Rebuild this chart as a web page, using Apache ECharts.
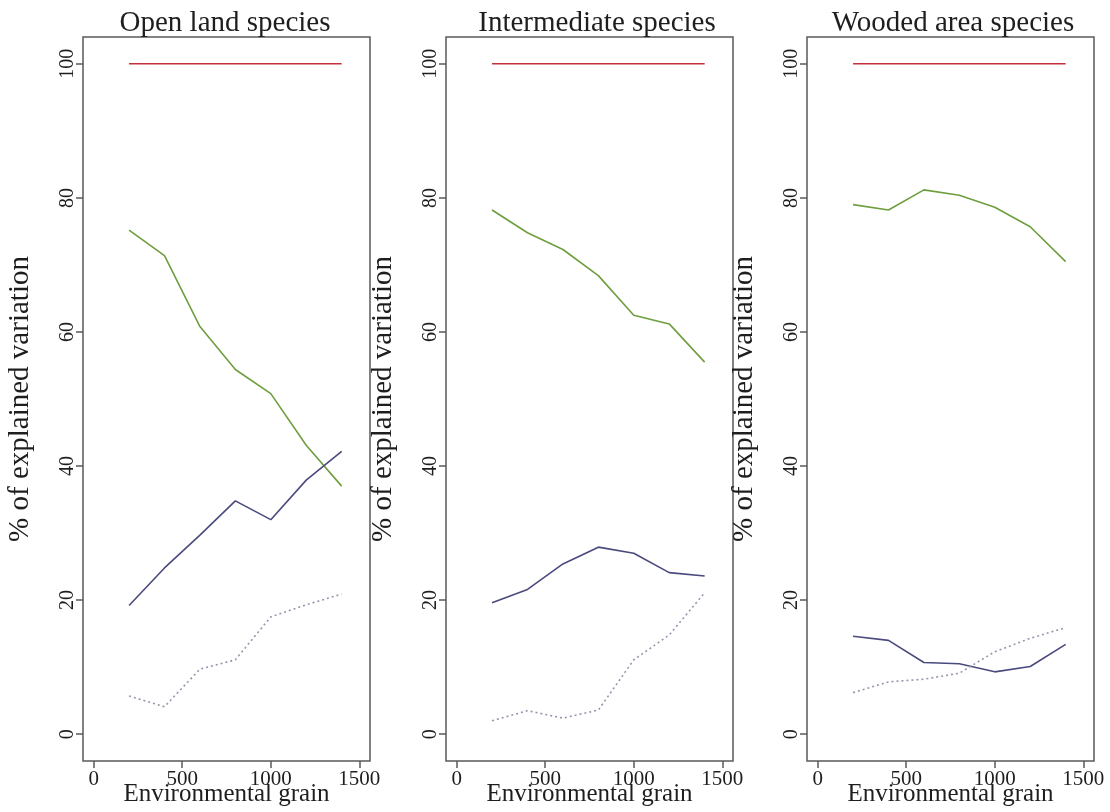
<!DOCTYPE html>
<html>
<head>
<meta charset="utf-8">
<script src="https://cdn.jsdelivr.net/npm/echarts@6/dist/echarts.min.js"></script>
<style>
html,body{margin:0;padding:0;background:#fff;}
#chart{width:1110px;height:812px;}
</style>
</head>
<body>
<div id="chart"></div>
<script>
// ---- data ----
const grain = [200, 400, 600, 800, 1000, 1200, 1400];
const panelTitles = ["Open land species", "Intermediate species", "Wooded area species"];
const xTicks = [0, 500, 1000, 1500];
const yTicks = [0, 20, 40, 60, 80, 100];

const openTotal = [100, 100, 100, 100, 100, 100, 100];
const openGreen = [75.2, 71.4, 60.8, 54.4, 50.8, 43.1, 37.0];
const openBlue  = [19.2, 24.8, 29.7, 34.8, 32.0, 37.9, 42.2];
const openDot   = [5.7, 4.1, 9.7, 11.1, 17.5, 19.3, 20.9];

const interTotal = [100, 100, 100, 100, 100, 100, 100];
const interGreen = [78.2, 74.8, 72.3, 68.4, 62.5, 61.2, 55.5];
const interBlue  = [19.6, 21.6, 25.4, 27.9, 27.0, 24.1, 23.6];
const interDot   = [2.0, 3.5, 2.4, 3.6, 11.1, 14.8, 21.1];

const woodTotal = [100, 100, 100, 100, 100, 100, 100];
const woodGreen = [79.0, 78.2, 81.2, 80.4, 78.6, 75.7, 70.5];
const woodBlue  = [14.6, 14.0, 10.7, 10.5, 9.3, 10.1, 13.4];
const woodDot   = [6.2, 7.8, 8.2, 9.1, 12.3, 14.3, 15.9];

const panels = [
  [openTotal, openGreen, openBlue, openDot],
  [interTotal, interGreen, interBlue, interDot],
  [woodTotal, woodGreen, woodBlue, woodDot]
];

// ---- layout / style ----
const gridLefts = [83, 446, 807];
const titleCenters = [220, 592, 948];
const gridWidth = 287;
const gridTop = 37;
const gridHeight = 724;
const serif = '"Liberation Serif", "DejaVu Serif", serif';
const boxColor = '#5a5a5a';
const txt = '#1e1e1e';
const styles = [
  {name: 'Total', color: '#c4303a', type: 'solid'},
  {name: 'Environment', color: '#6f9e3f', type: 'solid'},
  {name: 'Space', color: '#4a4a7e', type: 'solid'},
  {name: 'Shared', color: '#9a93ad', type: [2, 3]}
];

const grids = [], xAxes = [], yAxes = [], series = [], titles = [];
gridLefts.forEach((l, p) => {
  grids.push({left: l, top: gridTop, width: gridWidth, height: gridHeight,
    outerBoundsMode: 'none', containLabel: false,
    show: true, borderColor: boxColor, borderWidth: 1.5, backgroundColor: 'transparent'});
  titles.push({text: panelTitles[p], left: titleCenters[p], top: 4, textAlign: 'center',
    textStyle: {fontFamily: serif, fontSize: 29, fontWeight: 'normal', color: txt}});
  xAxes.push({type: 'value', gridIndex: p, min: -60, max: 1560,
    name: 'Environmental grain', nameLocation: 'middle', nameGap: 21, nameMoveOverlap: false,
    nameTextStyle: {fontFamily: serif, fontSize: 25, color: txt},
    axisLine: {show: false, onZero: false}, splitLine: {show: false},
    axisTick: {show: true, length: 7, customValues: xTicks, lineStyle: {color: boxColor, width: 1.5}},
    axisLabel: {customValues: xTicks, formatter: v => String(v), fontFamily: serif, fontSize: 21, color: txt, margin: 8}
  });
  yAxes.push({type: 'value', gridIndex: p, min: -4, max: 104,
    name: '% of explained variation', nameLocation: 'middle', nameGap: 48, nameMoveOverlap: false,
    nameTextStyle: {fontFamily: serif, fontSize: 29, color: txt},
    axisLine: {show: false, onZero: false}, splitLine: {show: false},
    axisTick: {show: true, length: 7, customValues: yTicks, lineStyle: {color: boxColor, width: 1.5}},
    axisLabel: {customValues: yTicks, formatter: v => String(v), rotate: 90, fontFamily: serif, fontSize: 20, color: txt, margin: 5}
  });
  panels[p].forEach((vals, k) => {
    series.push({type: 'line', name: styles[k].name, xAxisIndex: p, yAxisIndex: p,
      data: grain.map((g, i) => [g, vals[i]]), symbol: 'none', silent: true,
      lineStyle: {color: styles[k].color, width: 1.6, type: styles[k].type}});
  });
});

const chart = echarts.init(document.getElementById('chart'), null, {renderer: 'canvas'});
chart.setOption({
  animation: false,
  backgroundColor: '#fff',
  title: titles,
  grid: grids,
  xAxis: xAxes,
  yAxis: yAxes,
  series: series
});
</script>
</body>
</html>
